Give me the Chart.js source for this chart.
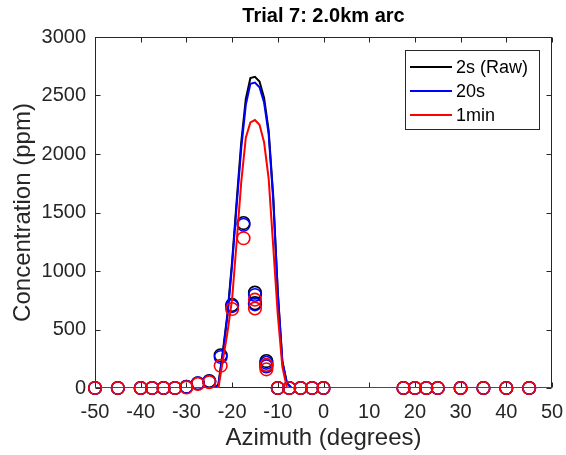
<!DOCTYPE html>
<html>
<head>
<meta charset="utf-8">
<script src="https://cdn.jsdelivr.net/npm/chart.js@4.4.0/dist/chart.umd.min.js"></script>
<style>
  html, body { margin: 0; padding: 0; background: #ffffff; }
  #wrap { width: 566px; height: 455px; position: relative; }
</style>
</head>
<body>
<div id="wrap"><canvas id="c"></canvas></div>
<script>
// ---- data ----
const chartTitle = 'Trial 7: 2.0km arc';
const xAxisTitle = 'Azimuth (degrees)';
const yAxisTitle = 'Concentration (ppm)';
const seriesNames = ['2s (Raw)', '20s', '1min'];
const seriesColors = ['#000000', '#0000ff', '#ff0000'];

// continuous profiles (azimuth in degrees)
const lineAz   = [-50, -24, -23, -22, -21, -20, -19, -18, -17, -16, -15, -14, -13, -12, -11, -10, -9, -8, -7, 50];
const raw2sLine  = [0, 0, 30, 320, 640, 1080, 1600, 2100, 2470, 2650, 2660, 2620, 2480, 2200, 1640, 820, 230, 40, 0, 0];
const avg20sLine = [0, 0, 25, 300, 620, 1050, 1560, 2050, 2420, 2600, 2610, 2570, 2440, 2170, 1610, 810, 220, 40, 0, 0];
const avg1mLine  = [0, 0, 0, 240, 480, 760, 1250, 1760, 2140, 2270, 2290, 2250, 2100, 1790, 1210, 625, 180, 0, 0, 0];

// sampler values (circles)
const sampAz     = [-50, -45, -40, -37.5, -35, -32.5, -30, -27.5, -25, -22.5, -20, -17.5, -15, -15, -12.5, -12.5, -10, -7.5, -5, -2.5, 0, 17.5, 20, 22.5, 25, 30, 35, 40, 45];
const raw2sSamp  = [0, 0, 0, 0, 0, 0, 10, 40, 60, 280, 710, 1410, 815, 725, 230, 195, 0, 0, 0, 0, 0, 0, 0, 0, 0, 0, 0, 0, 0];
const avg20sSamp = [0, 0, 0, 0, 0, 0, 10, 40, 55, 265, 700, 1395, 795, 715, 215, 185, 0, 0, 0, 0, 0, 0, 0, 0, 0, 0, 0, 0, 0];
const avg1mSamp  = [0, 0, 0, 0, 0, 0, 5, 35, 50, 190, 675, 1280, 755, 680, 195, 160, 0, 0, 0, 0, 0, 0, 0, 0, 0, 0, 0, 0, 0];

const xMin = -50, xMax = 50, xStep = 10;
const yMin = 0, yMax = 3000, yStep = 500;

// ---- build datasets ----
function pts(xs, ys) { return xs.map((x, i) => ({ x: x, y: ys[i] })); }
const lineSets = [raw2sLine, avg20sLine, avg1mLine];
const sampSets = [raw2sSamp, avg20sSamp, avg1mSamp];
const datasets = [];
for (let s = 0; s < 3; s++) {
  datasets.push({
    label: seriesNames[s],
    isLegend: true,
    data: pts(lineAz, lineSets[s]),
    borderColor: seriesColors[s],
    backgroundColor: seriesColors[s],
    borderWidth: 2,
    pointRadius: 0,
    tension: 0,
    fill: false,
    order: 6 - 2 * s
  });
  datasets.push({
    label: seriesNames[s] + ' samplers',
    data: pts(sampAz, sampSets[s]),
    showLine: false,
    borderColor: seriesColors[s],
    backgroundColor: 'rgba(0,0,0,0)',
    pointStyle: 'circle',
    pointRadius: 6.3,
    pointBorderWidth: 1.6,
    clip: false,
    order: 5 - 2 * s
  });
}

const FONT = 'Liberation Sans, Arial, Helvetica, sans-serif';
const AXC = '#262626';

const framePlugin = {
  id: 'frame',
  beforeDatasetsDraw(chart) {
    const { ctx, chartArea: a, scales } = chart;
    ctx.save();
    ctx.strokeStyle = AXC;
    ctx.lineWidth = 1;
    const L = Math.round(a.left) + 0.5, R = Math.round(a.right) - 0.5;
    const T = Math.round(a.top) + 0.5, B = Math.round(a.bottom) - 0.5;
    ctx.strokeRect(L, T, R - L, B - T);
    const tl = 5;
    ctx.beginPath();
    scales.x.ticks.forEach(t => {
      const px = Math.round(scales.x.getPixelForValue(t.value)) + 0.5;
      ctx.moveTo(px, B); ctx.lineTo(px, B - tl);
      ctx.moveTo(px, T); ctx.lineTo(px, T + tl);
    });
    scales.y.ticks.forEach(t => {
      const py = Math.round(scales.y.getPixelForValue(t.value)) + 0.5;
      ctx.moveTo(L, py); ctx.lineTo(L + tl, py);
      ctx.moveTo(R, py); ctx.lineTo(R - tl, py);
    });
    ctx.stroke();
    ctx.restore();
  }
};

const legendPlugin = {
  id: 'boxLegend',
  afterDraw(chart) {
    const { ctx, chartArea: a } = chart;
    const items = chart.data.datasets.filter(d => d.isLegend);
    ctx.save();
    const right = a.right - 13, top = a.top + 13;
    const w = 134, h = 79;
    const left = right - w;
    ctx.fillStyle = '#ffffff';
    ctx.fillRect(left, top, w, h);
    ctx.strokeStyle = AXC;
    ctx.lineWidth = 1;
    ctx.strokeRect(Math.round(left) + 0.5, Math.round(top) + 0.5, w, h);
    ctx.font = '18px ' + FONT;
    ctx.textBaseline = 'middle';
    ctx.textAlign = 'left';
    items.forEach((d, i) => {
      const y = top + 17 + i * 24;
      ctx.strokeStyle = d.borderColor;
      ctx.lineWidth = 2;
      ctx.beginPath();
      ctx.moveTo(left + 5, y);
      ctx.lineTo(left + 47, y);
      ctx.stroke();
      ctx.fillStyle = '#000000';
      ctx.fillText(d.label, left + 51, y + 1);
    });
    ctx.restore();
  }
};

new Chart(document.getElementById('c'), {
  type: 'line',
  data: { datasets: datasets },
  options: {
    responsive: true,
    maintainAspectRatio: false,
    animation: false,
    devicePixelRatio: 1,
    layout: { padding: { left: 0, right: 14, top: 0, bottom: 0 } },
    plugins: {
      legend: { display: false },
      tooltip: { enabled: false },
      title: {
        display: true,
        text: chartTitle,
        fullSize: false,
        color: '#000000',
        font: { family: FONT, size: 20, weight: 'bold' },
        padding: { top: 4, bottom: 9 }
      }
    },
    scales: {
      x: {
        type: 'linear',
        min: xMin, max: xMax,
        grid: { display: false, drawTicks: false },
        border: { display: false },
        ticks: { stepSize: xStep, color: AXC, font: { family: FONT, size: 20 }, padding: 12, maxRotation: 0 },
        title: { display: true, text: xAxisTitle, color: AXC, font: { family: FONT, size: 24 }, padding: { top: 0, bottom: 2 } },
        afterFit(scale) { scale.height = 67; scale.paddingLeft = 0; scale.paddingRight = 0; }
      },
      y: {
        type: 'linear',
        min: yMin, max: yMax,
        grid: { display: false, drawTicks: false },
        border: { display: false },
        ticks: { stepSize: yStep, color: AXC, font: { family: FONT, size: 20 }, padding: 9,
                 callback: (v) => String(v) },
        title: { display: true, text: yAxisTitle, color: AXC, font: { family: FONT, size: 24 }, padding: { top: 9, bottom: 0 } },
        afterFit(scale) { scale.width = 95; scale.paddingTop = 0; scale.paddingBottom = 0; }
      }
    }
  },
  plugins: [framePlugin, legendPlugin]
});
</script>
</body>
</html>
